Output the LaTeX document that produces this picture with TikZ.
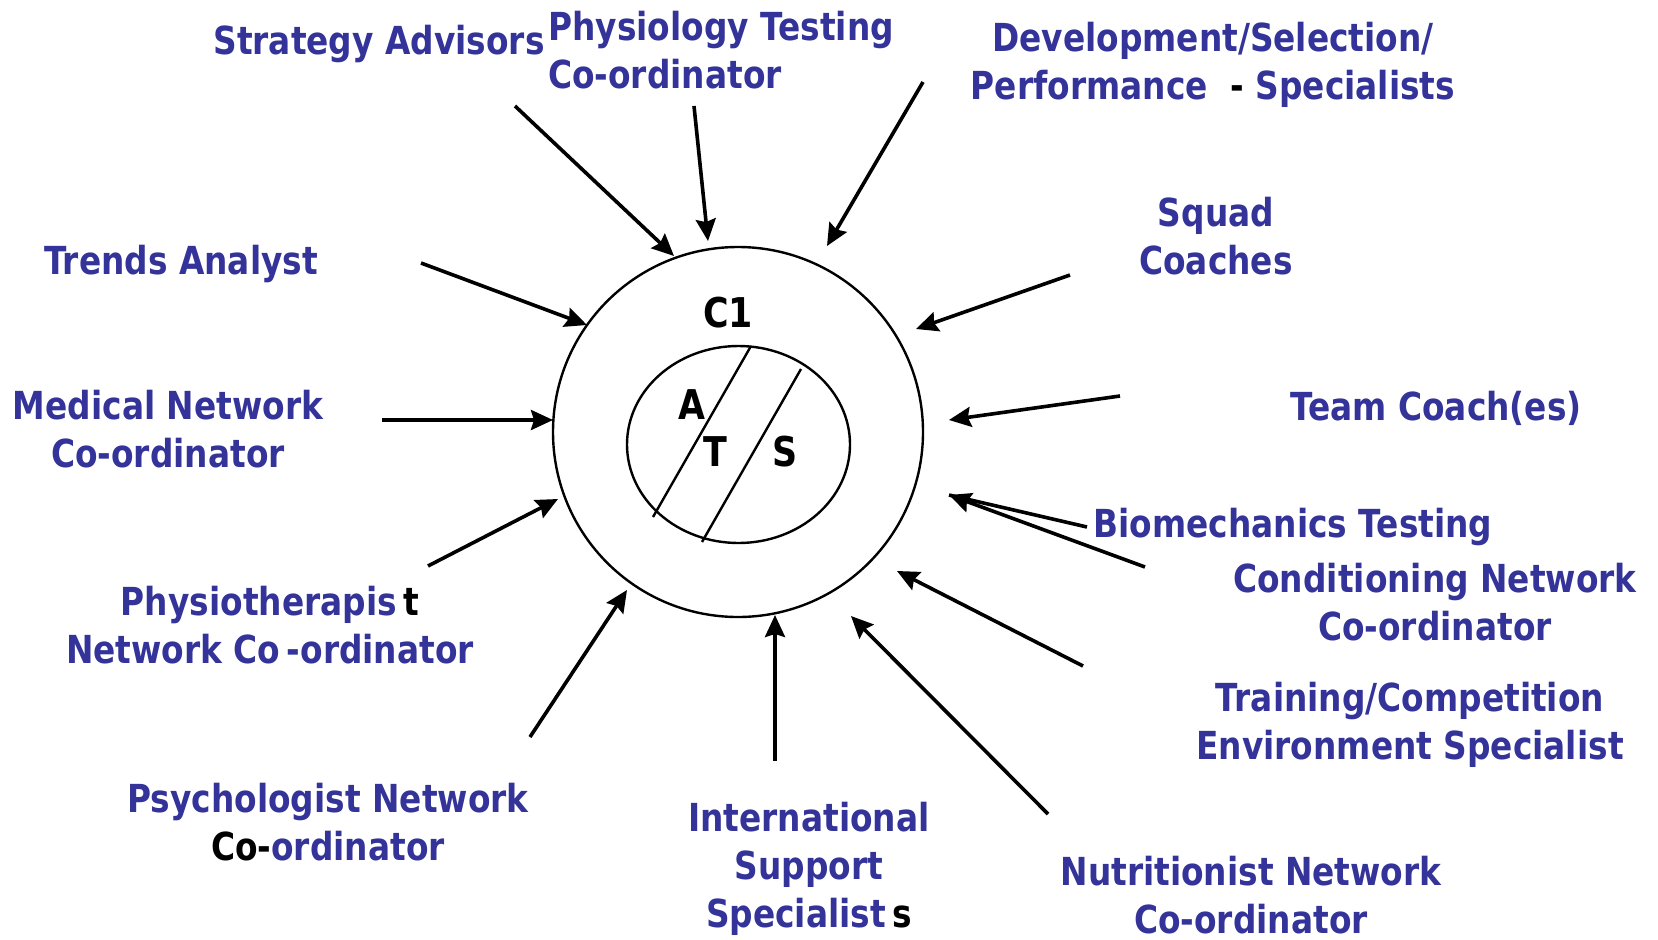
\documentclass[tikz,border=0pt]{standalone}
\usepackage{fontspec}
\usetikzlibrary{arrows.meta,shapes.geometric}
\newfontfamily\lblfont[FakeStretch=0.85]{DejaVu Sans}
\definecolor{navy}{RGB}{51,51,153}
\tikzset{
  lbl/.style={font=\lblfont\bfseries\fontsize{38.6}{48}\selectfont, text=navy, inner sep=0pt, align=center},
  ltr/.style={font=\lblfont\bfseries\fontsize{41}{48}\selectfont, text=black, inner sep=0pt},
  arr/.style={line width=3.6pt, -{Stealth[length=22pt,width=20pt,inset=3pt]}},
  ring/.style={draw, line width=2.4pt, inner sep=0pt},
  divider/.style={line width=2.4pt}
}
\begin{document}
\begin{tikzpicture}[x=1pt,y=-1pt]
\useasboundingbox (0,0) rectangle (1658,940);
% central circles
\node[ring, circle, minimum size=370pt] (outer) at (738,432) {};
\node[ring, ellipse, minimum width=223pt, minimum height=197pt] (inner) at (738.5,444.5) {};
\draw[divider] (751,346) -- (653,517);
\draw[divider] (801,369) -- (702,542);
\node[ltr] (c1) at (728,313) {C1};
\node[ltr] (la) at (692,405) {A};
\node[ltr] (lt) at (715,452) {T};
\node[ltr] (ls) at (785,452) {S};
% labels
\node[lbl] (strat) at (379,44) {Strategy Advisors};
\node[lbl, align=left, anchor=west] (physio) at (548,50) {Physiology Testing\\Co-ordinator};
\node[lbl] (dev) at (1213,65) {Development/Selection/\\Performance\ \ {\color{black}-} Specialists};
\node[lbl] (squad) at (1216,236) {Squad\\Coaches};
\node[lbl] (trends) at (181,264) {Trends Analyst};
\node[lbl] (medical) at (168,429) {Medical Network\\Co-ordinator};
\node[lbl] (team) at (1436,408) {Team Coach(es)};
\node[lbl] (biomech) at (1293,527) {Biomechanics Testing};
\node[lbl] (cond) at (1435,602) {Conditioning Network\\Co-ordinator};
\node[lbl] (physther) at (270,625) {Physiotherapis\,{\color{black}t}\\Network Co\,-ordinator};
\node[lbl] (training) at (1410,725) {Training/Competition\\Environment Specialist};
\node[lbl] (psych) at (328,822) {Psychologist Network\\{\color{black}Co-}ordinator};
\node[lbl] (intl) at (809,869) {International\\Support\\Specialist\,{\color{black}s}};
\node[lbl] (nutri) at (1251,895) {Nutritionist Network\\Co-ordinator};
% arrow ends
\coordinate (s1) at (515,106);  \coordinate (e1) at (674,256);
\coordinate (s2) at (694,106);  \coordinate (e2) at (708,241);
\coordinate (s3) at (923,82);   \coordinate (e3) at (827,246);
\coordinate (s4) at (1070,275); \coordinate (e4) at (916,329);
\coordinate (s5) at (421,263);  \coordinate (e5) at (587,325);
\coordinate (s6) at (1120,396); \coordinate (e6) at (949,420);
\coordinate (s7) at (382,420);  \coordinate (e7) at (553,420);
\coordinate (s8) at (1087,527); \coordinate (s8b) at (1145,567); \coordinate (e8) at (949,495);
\coordinate (s9) at (428,566);  \coordinate (e9) at (558,499);
\coordinate (s10) at (1083,666); \coordinate (e10) at (897,571);
\coordinate (s11) at (530,737); \coordinate (e11) at (627,590);
\coordinate (s12) at (775,761); \coordinate (e12) at (775,615);
\coordinate (s13) at (1048,814); \coordinate (e13) at (851,616);
% arrows
\draw[arr] (s1) -- (e1);
\draw[arr] (s2) -- (e2);
\draw[arr] (s3) -- (e3);
\draw[arr] (s4) -- (e4);
\draw[arr] (s5) -- (e5);
\draw[arr] (s6) -- (e6);
\draw[arr] (s7) -- (e7);
\draw[line width=3.6pt] (s8) -- (e8);
\draw[arr] (s8b) -- (e8);
\draw[arr] (s9) -- (e9);
\draw[arr] (s10) -- (e10);
\draw[arr] (s11) -- (e11);
\draw[arr] (s12) -- (e12);
\draw[arr] (s13) -- (e13);
\end{tikzpicture}
\end{document}
